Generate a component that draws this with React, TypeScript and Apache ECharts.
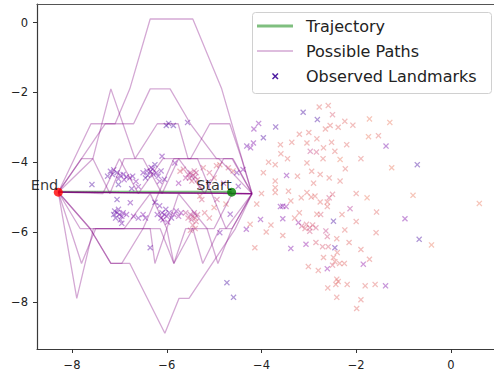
import React, { useEffect, useRef } from "react";
import * as echarts from "echarts";

// ---------- data ----------
const xTicks = [-8, -6, -4, -2, 0];
const yTicks = [-8, -6, -4, -2, 0];

const startPoint = [-4.63, -4.86];
const endPoint = [-8.29, -4.86];

const trajectoryX = [-4.63, -5.5, -6.5, -7.5, -8.29];
const trajectoryY = [-4.85, -4.85, -4.85, -4.85, -4.85];

const path1 = [[-8.29, -4.86], [-7.6, -2.9], [-7.09, -2.9], [-6.78, -1.9], [-6.35, 0.1], [-5.45, 0.1], [-4.84, -1.9], [-4.2, -4.9]];
const path2 = [[-8.29, -4.86], [-7.8, -3.9], [-7.3, -2.9], [-6.7, -2.9], [-6.35, -1.9], [-5.93, -1.9], [-5.5, -2.9], [-4.95, -3.9], [-4.6, -3.9], [-4.2, -4.9]];
const path3 = [[-8.29, -4.86], [-7.56, -3.9], [-7.18, -1.9], [-6.67, -3.9], [-6.2, -2.9], [-5.76, -2.9], [-5.55, -3.9], [-4.9, -3.9], [-4.2, -4.9]];
const path4 = [[-8.29, -4.86], [-7.35, -4.9], [-7.0, -3.9], [-6.6, -4.9], [-6.08, -3.9], [-5.5, -3.9], [-5.09, -2.9], [-4.67, -2.9], [-4.42, -3.9], [-4.2, -4.9]];
const path5 = [[-8.29, -4.86], [-7.8, -3.9], [-7.56, -3.9], [-7.2, -4.9], [-6.9, -3.9], [-6.5, -3.9], [-6.1, -4.9], [-5.75, -3.9], [-5.2, -4.9], [-4.8, -3.9], [-4.62, -3.9], [-4.2, -4.9]];
const path6 = [[-8.29, -4.86], [-7.62, -5.9], [-7.18, -6.9], [-6.78, -6.9], [-6.04, -8.9], [-5.74, -7.9], [-5.53, -7.9], [-4.55, -5.9], [-4.2, -4.9]];
const path7 = [[-8.29, -4.86], [-7.9, -7.9], [-7.55, -5.9], [-6.14, -5.9], [-5.85, -6.9], [-5.45, -5.9], [-5.24, -6.9], [-4.88, -5.9], [-4.62, -5.9], [-4.2, -4.9]];
const path8 = [[-8.29, -4.86], [-7.8, -6.9], [-7.5, -5.9], [-6.35, -5.9], [-6.25, -6.9], [-5.75, -4.9], [-5.15, -5.9], [-4.92, -6.9], [-4.62, -5.9], [-4.2, -4.9]];
const path9 = [[-8.29, -4.86], [-7.62, -5.9], [-7.18, -6.9], [-6.95, -6.9], [-6.5, -5.9], [-5.85, -3.9], [-5.35, -3.9], [-4.75, -5.9], [-4.2, -4.9]];
const path10 = [[-8.29, -4.86], [-7.83, -5.9], [-6.9, -5.9], [-6.35, -4.9], [-6.0, -5.9], [-5.85, -6.9], [-5.6, -5.9], [-5.0, -5.9], [-4.62, -4.9], [-4.2, -4.9]];
const pathStraight = [[-8.29, -4.86], [-4.2, -4.9]];
const pathList = [path1, path2, path3, path4, path5, path6, path7, path8, path9, path10, pathStraight, pathStraight, pathStraight, pathStraight, pathStraight];

// landmarks: x, y, colour value (0..1 on plasma)
const landmarkX = [
  -7.19, -7.12, -7.05, -6.98, -6.92, -6.85, -6.78, -6.72, -7.15, -7.02, -6.9, -7.25, -7.02, -6.74, -7.58, -6.65,
  -6.5, -6.42, -6.35, -6.3, -6.28, -6.22, -6.18, -6.4, -6.25, -6.05, -6.12, -6.33, -6.45, -6.15,
  -5.55, -5.5, -5.45, -5.4, -5.38, -5.47, -5.52, -5.35, -5.42, -5.6,
  -5.83, -5.72, -5.65, -5.23, -5.1, -5.12, -4.95, -4.88, -4.7, -4.6, -4.52, -4.49, -5.3, -4.31, -6.1, -6.01, -5.96, -5.86, -5.56, -5.3, -5.75, -6.6, -5.0, -4.8,
  -7.1, -7.05, -7.0, -6.95, -7.08, -6.98, -7.02, -6.92, -7.12, -6.95, -7.05, -6.77, -6.85, -6.7, -6.6, -6.5, -6.45,
  -6.25, -6.15, -6.1, -6.05, -6.0, -5.95, -5.9, -6.08, -5.98, -6.12, -5.85, -5.8, -5.75, -5.7, -6.2, -6.02,
  -5.5, -5.45, -5.4, -5.48, -5.42, -5.55, -5.38, -5.45, -5.4, -5.5, -5.35, -5.6,
  -5.2, -5.1, -5.26, -4.94, -4.66, -4.88, -6.35, -4.73, -4.59, -5.0, -4.75,
  -3.12, -2.78, -2.59, -2.82, -2.5, -2.55, -2.38, -2.24, -2.07, -1.72, -1.29, -4.16, -4.06, -3.7, -3.96, -4.17, -4.23,
  -3.36, -3.04, -2.83, -2.97, -2.84, -2.69, -2.52, -2.45, -1.74, -1.53, -1.37, -3.59, -3.85, -3.71, -3.04, -2.94, -2.76,
  -2.34, -2.23, -2.34, -2.57, -1.25, -0.71, -3.47, -3.24, -3.96, -4.39, -3.71, -3.71, -3.71, -3.43, -3.04, -2.87,
  -2.57, -2.5, -2.61, -2.76, -3.16, -3.38, -2.95, -1.77, -0.8, 0.6, -3.55, -3.6, -3.48, -2.13, -2.61, -3.2, -2.83,
  -2.75, -2.48, -3.55, -4.02, -4.24, -4.32, -3.22, -3.15, -3.05, -2.98, -2.92, -2.85, -2.98, -3.08, -2.64, -2.61,
  -2.41, -2.24, -1.57, -1.58, -0.97, -0.67, -0.41, -4.14, -3.38, -3.06, -2.85, -2.71, -2.59, -2.45, -2.69, -2.48,
  -2.4, -3.01, -2.61, -2.5, -2.45, -2.35, -2.25, -1.85, -1.72, -2.41, -2.43, -2.38, -2.19, -1.81, -1.6, -1.38,
  -2.41, -1.9, -1.99, -3.45, -3.2, -2.65, -2.9, -3.3, -2.3, -2.0, -2.15, -3.55, -3.8, -4.0, -4.1, -3.9, -2.7,
  -3.0, -3.6, -2.2, -1.9, -2.0, -1.9, -2.6, -2.8,
];
const landmarkY = [
  -4.26, -4.22, -4.3, -4.37, -4.35, -4.42, -4.45, -4.4, -4.35, -4.48, -4.5, -4.4, -4.64, -4.76, -4.64, -4.55,
  -4.3, -4.25, -4.27, -4.2, -4.35, -4.3, -4.4, -4.38, -4.07, -4.49, -4.25, -4.15, -4.45, -4.55,
  -4.35, -4.3, -4.38, -4.42, -4.3, -4.54, -4.45, -4.5, -4.25, -4.45,
  -4.02, -4.26, -4.2, -4.16, -4.3, -4.57, -4.1, -4.07, -4.16, -4.25, -4.3, -4.69, -4.97, -3.54, -3.83, -2.95, -2.89, -2.95, -2.86, -4.7, -4.6, -4.7, -4.45, -4.6,
  -5.4, -5.45, -5.5, -5.55, -5.6, -5.65, -5.35, -5.45, -5.5, -5.75, -5.07, -5.16, -5.5, -5.55, -5.6, -5.5, -5.6,
  -5.15, -5.25, -5.45, -5.5, -5.55, -5.45, -5.6, -5.65, -5.72, -5.6, -5.5, -5.4, -5.55, -5.45, -5.5, -5.35,
  -5.5, -5.55, -5.6, -5.65, -5.45, -5.6, -5.7, -5.8, -5.9, -5.95, -5.5, -5.45,
  -5.45, -5.6, -5.07, -5.07, -5.49, -6.02, -6.45, -7.45, -7.87, -5.3, -5.2,
  -2.57, -2.42, -2.38, -2.78, -2.64, -2.95, -3.0, -2.83, -2.94, -2.76, -2.86, -3.05, -2.89, -2.99, -3.3, -3.45, -3.59,
  -3.43, -3.45, -3.33, -3.69, -3.71, -3.59, -3.43, -3.69, -3.27, -3.24, -3.54, -3.76, -4.0, -4.07, -4.02, -4.26, -4.35,
  -3.92, -4.19, -4.54, -4.45, -4.16, -4.07, -4.38, -4.4, -4.3, -4.21, -4.54, -4.73, -4.87, -4.83, -4.87, -4.97,
  -5.02, -4.92, -5.14, -5.14, -5.02, -5.11, -5.0, -5.02, -4.95, -5.18, -5.26, -5.27, -5.27, -5.33, -5.27, -5.45, -5.49,
  -5.5, -5.69, -5.62, -5.64, -5.78, -5.92, -5.73, -5.83, -5.78, -5.88, -5.8, -5.88, -5.98, -5.9, -5.97, -6.13,
  -6.19, -5.94, -5.43, -6.02, -5.62, -6.21, -6.37, -6.45, -6.47, -6.35, -6.3, -6.42, -6.42, -6.45, -6.73, -6.73,
  -6.59, -6.99, -7.05, -6.95, -6.85, -6.9, -6.9, -6.92, -6.78, -7.35, -7.5, -7.42, -7.5, -7.54, -7.5, -7.54,
  -7.87, -7.94, -8.19, -3.9, -3.2, -3.05, -4.6, -5.6, -5.5, -4.9, -6.3, -6.1, -5.8, -4.9, -5.2, -6.0, -3.9,
  -3.15, -3.5, -3.5, -3.9, -5.7, -6.5, -7.6, -7.1,
];
const landmarkC = [
  0.18, 0.2, 0.15, 0.22, 0.18, 0.2, 0.25, 0.18, 0.15, 0.2, 0.22, 0.15, 0.1, 0.15, 0.12, 0.25,
  0.2, 0.18, 0.22, 0.2, 0.18, 0.25, 0.2, 0.15, 0.12, 0.18, 0.2, 0.22, 0.15, 0.25,
  0.42, 0.45, 0.48, 0.4, 0.45, 0.5, 0.42, 0.48, 0.45, 0.4,
  0.25, 0.55, 0.5, 0.55, 0.5, 0.45, 0.55, 0.6, 0.55, 0.6, 0.2, 0.2, 0.55, 0.2, 0.2, 0.1, 0.12, 0.1, 0.15, 0.5, 0.3, 0.25, 0.55, 0.3,
  0.15, 0.2, 0.18, 0.22, 0.15, 0.2, 0.18, 0.22, 0.15, 0.2, 0.12, 0.2, 0.22, 0.25, 0.2, 0.25, 0.22,
  0.15, 0.2, 0.18, 0.22, 0.25, 0.2, 0.18, 0.25, 0.3, 0.22, 0.28, 0.25, 0.3, 0.28, 0.2, 0.18,
  0.42, 0.45, 0.5, 0.45, 0.4, 0.48, 0.5, 0.52, 0.55, 0.55, 0.45, 0.42,
  0.55, 0.55, 0.5, 0.45, 0.2, 0.2, 0.15, 0.1, 0.1, 0.6, 0.6,
  0.1, 0.6, 0.6, 0.1, 0.55, 0.6, 0.6, 0.6, 0.6, 0.65, 0.65, 0.25, 0.25, 0.12, 0.12, 0.25, 0.25,
  0.6, 0.6, 0.6, 0.45, 0.5, 0.6, 0.6, 0.6, 0.65, 0.6, 0.22, 0.6, 0.6, 0.6, 0.6, 0.6, 0.6,
  0.65, 0.6, 0.6, 0.6, 0.65, 0.1, 0.25, 0.6, 0.6, 0.25, 0.6, 0.6, 0.6, 0.6, 0.6, 0.6,
  0.5, 0.55, 0.6, 0.6, 0.6, 0.6, 0.6, 0.65, 0.65, 0.65, 0.25, 0.25, 0.3, 0.4, 0.6, 0.6, 0.6,
  0.55, 0.1, 0.25, 0.25, 0.6, 0.25, 0.3, 0.5, 0.55, 0.5, 0.55, 0.5, 0.5, 0.55, 0.45, 0.5,
  0.6, 0.6, 0.6, 0.6, 0.25, 0.1, 0.65, 0.6, 0.25, 0.3, 0.55, 0.55, 0.55, 0.12, 0.6, 0.6,
  0.6, 0.6, 0.3, 0.55, 0.6, 0.6, 0.6, 0.3, 0.6, 0.6, 0.6, 0.6, 0.6, 0.6, 0.6, 0.25,
  0.6, 0.6, 0.6, 0.6, 0.6, 0.6, 0.6, 0.6, 0.6, 0.6, 0.6, 0.6, 0.6, 0.6, 0.6, 0.6, 0.6,
  0.6, 0.6, 0.6, 0.6, 0.6, 0.6, 0.6, 0.6,
];

// ---------- helpers ----------
const plasma = ["#0d0887", "#41049d", "#6a00a8", "#8f0da4", "#b12a90", "#cc4778", "#e16462", "#f2844b", "#fca636", "#fcce25", "#f0f921"];
function hexToRgb(h: string) {
  return [parseInt(h.slice(1, 3), 16), parseInt(h.slice(3, 5), 16), parseInt(h.slice(5, 7), 16)];
}
function cmap(t: number) {
  const v = Math.max(0, Math.min(1, t)) * (plasma.length - 1);
  const i = Math.min(Math.floor(v), plasma.length - 2);
  const f = v - i;
  const a = hexToRgb(plasma[i]);
  const b = hexToRgb(plasma[i + 1]);
  const c = a.map((x, k) => Math.round(x + (b[k] - x) * f));
  return `rgb(${c[0]},${c[1]},${c[2]})`;
}
const fmt = (v: number) => (v < 0 ? "\u2212" + Math.abs(v) : String(v));
const FONT = "DejaVu Sans";
const X_SYMBOL = "path://M1.5,0L5,3.5L8.5,0L10,1.5L6.5,5L10,8.5L8.5,10L5,6.5L1.5,10L0,8.5L3.5,5L0,1.5Z";

export default function App() {
  const ref = useRef<HTMLDivElement>(null);
  useEffect(() => {
    if (!ref.current) return;
    const chart = echarts.init(ref.current, undefined, { renderer: "svg" });

    const axisCommon = {
      type: "value",
      splitLine: { show: false },
      axisLine: { show: true, onZero: false, lineStyle: { color: "#3a3a3a", width: 1.2 } },
    };

    const pathSeries = pathList.map((p) => ({
      type: "line",
      name: "Possible Paths",
      data: p,
      showSymbol: false,
      symbol: "none",
      silent: true,
      lineStyle: { color: "rgba(128,0,128,0.34)", width: 1.3 },
      z: 3,
    }));

    const landmarkData = landmarkX.map((x, i) => ({
      value: [x, landmarkY[i]],
      itemStyle: { color: cmap(landmarkC[i]) },
    }));

    const option = {
      animation: false,
      grid: { left: 37, top: 4, right: 0, bottom: 21 },
      xAxis: [
        {
          ...axisCommon,
          min: -8.74,
          max: 0.91,
          axisTick: { show: true, length: 4, customValues: xTicks, lineStyle: { color: "#333" } },
          axisLabel: { customValues: xTicks, formatter: fmt, fontFamily: FONT, fontSize: 11.5, color: "#222", margin: 10 },
        },
        {
          ...axisCommon,
          position: "top",
          min: -8.74,
          max: 0.91,
          axisTick: { show: false },
          axisLabel: { show: false },
          axisLine: { show: true, onZero: false, lineStyle: { color: "#555", width: 1.2 } },
        },
      ],
      yAxis: {
        ...axisCommon,
        min: -9.35,
        max: 0.53,
        axisTick: { show: true, length: 4, customValues: yTicks, lineStyle: { color: "#333" } },
        axisLabel: { customValues: yTicks, formatter: fmt, fontFamily: FONT, fontSize: 11.5, color: "#222", margin: 9 },
      },
      series: [
        {
          type: "scatter",
          name: "Observed Landmarks",
          data: landmarkData,
          symbol: X_SYMBOL,
          symbolSize: 6,
          itemStyle: { opacity: 0.42 },
          silent: true,
          z: 2,
        },
        {
          type: "line",
          name: "Trajectory",
          data: trajectoryX.map((x, i) => [x, trajectoryY[i]]),
          showSymbol: false,
          symbol: "none",
          lineStyle: { color: "rgba(0,128,0,0.5)", width: 2.2 },
          z: 2,
        },
        ...pathSeries,
        {
          type: "scatter",
          name: "markers",
          symbolSize: 9,
          z: 5,
          data: [
            { name: "Start", value: startPoint, itemStyle: { color: "#008000" } },
            { name: "End", value: endPoint, itemStyle: { color: "#ff0000" } },
          ],
          label: {
            show: true,
            formatter: "{b}",
            position: [4.5, 4.5],
            align: "right",
            verticalAlign: "bottom",
            fontFamily: FONT,
            fontSize: 14.5,
            color: "#000",
          },
        },
      ],
      graphic: [
        {
          type: "group",
          z: 100,
          children: [
            { type: "rect", shape: { x: 252.5, y: 12.5, width: 239, height: 81, r: 3 }, style: { fill: "rgba(255,255,255,0.85)", stroke: "#d0d0d0", lineWidth: 1 } },
            { type: "line", shape: { x1: 257, y1: 26, x2: 293, y2: 26 }, style: { stroke: "rgba(0,128,0,0.5)", lineWidth: 3 } },
            { type: "text", x: 306, y: 26, style: { text: "Trajectory", font: `16px "${FONT}"`, fill: "#222", verticalAlign: "middle" } },
            { type: "line", shape: { x1: 257, y1: 51, x2: 293, y2: 51 }, style: { stroke: "rgba(128,0,128,0.35)", lineWidth: 1.5 } },
            { type: "text", x: 306, y: 51, style: { text: "Possible Paths", font: `16px "${FONT}"`, fill: "#222", verticalAlign: "middle" } },
            { type: "line", shape: { x1: 272.5, y1: 73.5, x2: 278, y2: 79 }, style: { stroke: "#4b1aa0", lineWidth: 1.5 } },
            { type: "line", shape: { x1: 278, y1: 73.5, x2: 272.5, y2: 79 }, style: { stroke: "#4b1aa0", lineWidth: 1.5 } },
            { type: "text", x: 306, y: 76, style: { text: "Observed Landmarks", font: `16px "${FONT}"`, fill: "#222", verticalAlign: "middle" } },
          ],
        },
      ],
    };

    chart.setOption(option as any);
    return () => chart.dispose();
  }, []);

  return (
    <div
      ref={ref}
      style={{ position: "fixed", left: 0, top: 0, width: 494, height: 371, background: "#fff" }}
    />
  );
}
